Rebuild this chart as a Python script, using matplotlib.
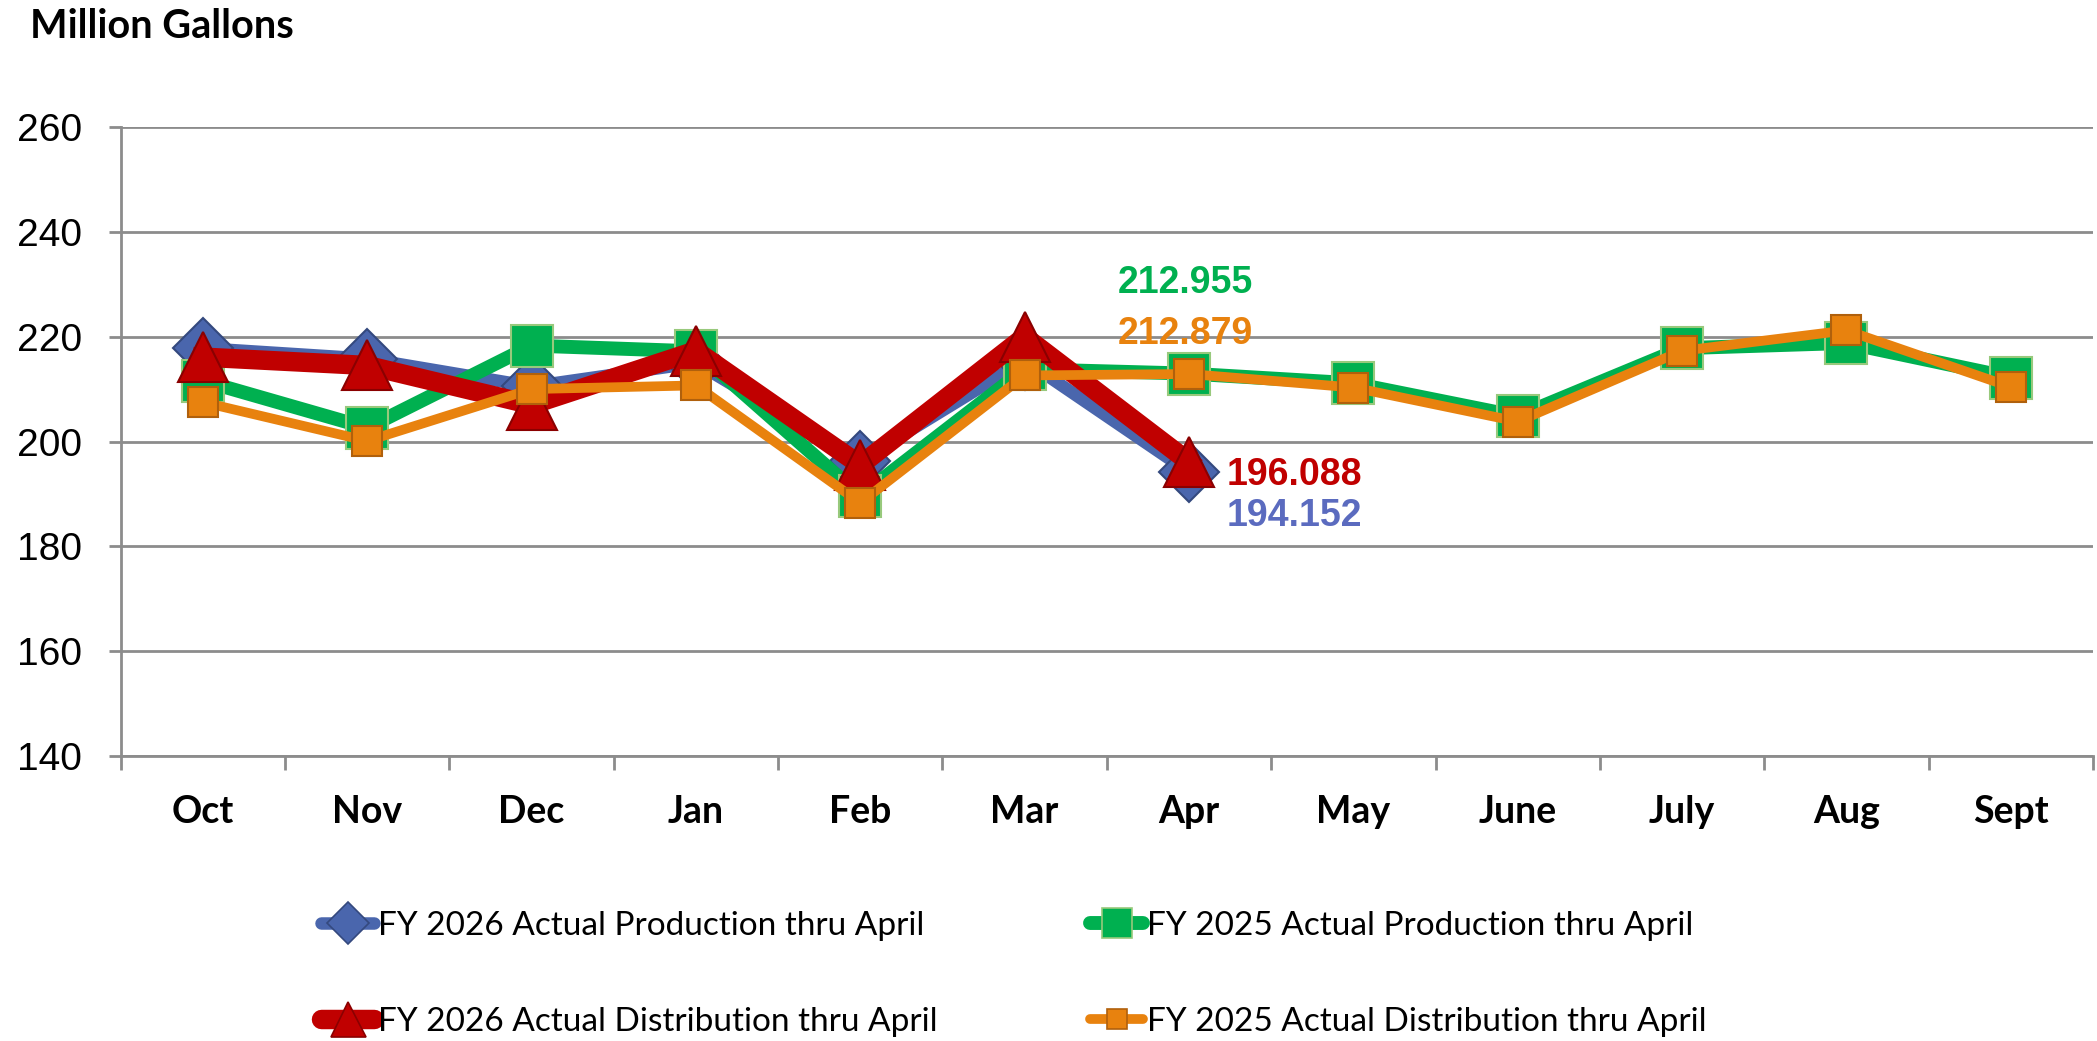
import matplotlib.pyplot as plt
from matplotlib.lines import Line2D
import numpy as np

months = ['Oct', 'Nov', 'Dec', 'Jan', 'Feb', 'Mar', 'Apr', 'May', 'June', 'July', 'Aug', 'Sept']
prod_2026 = [217.8, 215.8, 210.5, 215.0, 196.3, 215.5, 194.152]
prod_2025 = [211.6, 202.6, 218.3, 217.2, 189.6, 213.8, 212.955, 211.1, 204.8, 217.8, 218.8, 212.2]
dist_2026 = [216.1, 214.5, 207.0, 217.3, 195.5, 220.0, 196.088]
dist_2025 = [207.5, 200.1, 210.0, 210.7, 188.3, 212.6, 212.879, 210.3, 203.8, 217.3, 221.2, 210.4]
y_ticks = [140, 160, 180, 200, 220, 240, 260]

BLUE = '#4a66ad'
GREEN = '#00b050'
RED = '#c00000'
ORANGE = '#e8820e'
GRID = '#8c8c8c'

series = [
    # label, values, color, lw, marker, ms, edge color
    ('FY 2026 Actual Production thru April', prod_2026, BLUE, 9, 'D', 31, '#34497e'),
    ('FY 2025 Actual Production thru April', prod_2025, GREEN, 10, 's', 30, '#98c97c'),
    ('FY 2026 Actual Distribution thru April', dist_2026, RED, 14, '^', 36, '#8a0000'),
    ('FY 2025 Actual Distribution thru April', dist_2025, ORANGE, 7, 's', 21.5, '#b0600c'),
]

fig = plt.figure(figsize=(20.97, 10.41), dpi=100)
ax = fig.add_axes([120.7 / 2097, 1 - 756 / 1041, (2093 - 120.7) / 2097, (756 - 127) / 1041])

x = np.arange(len(months))
handles = []
for z, (lab, vals, col, lw, mk, ms, mec) in enumerate(series):
    ax.plot(x[:len(vals)], vals, color=col, lw=lw, marker=mk, ms=ms,
            mfc=col, mec=mec, mew=1.5, solid_joinstyle='miter', zorder=3 + z)
    handles.append(Line2D([], [], color=col, lw=lw, marker=mk, ms=ms * 0.7,
                          mfc=col, mec=mec, mew=1.2, solid_capstyle='round'))

ax.set_xlim(-0.5, 11.5)
ax.set_ylim(140, 260)
ax.set_yticks(y_ticks)
ax.set_yticklabels([str(v) for v in y_ticks], fontsize=28, family='Liberation Sans')
ax.tick_params(axis='y', length=9, width=2, color=GRID, pad=19)
ax.yaxis.grid(True, color=GRID, lw=2)
ax.set_axisbelow(True)

ax.set_xticks(x)
ax.set_xticklabels(months, fontsize=27, fontweight='bold', family='Lato')
ax.tick_params(axis='x', which='major', length=0, pad=28)
ax.set_xticks(np.arange(-0.5, 12, 1), minor=True)
ax.tick_params(axis='x', which='minor', length=10, width=2, color=GRID)

for s in ['top', 'right']:
    ax.spines[s].set_visible(False)
for s in ['left', 'bottom']:
    ax.spines[s].set_color(GRID)
    ax.spines[s].set_linewidth(2)

# value labels for April
lab_font = dict(fontsize=27, fontweight='bold', family='Liberation Sans', va='center', ha='left')
ax.annotate(f'{prod_2025[6]:.3f}', (6, prod_2025[6]), xytext=(-51.6, 65.3),
            textcoords='offset points', color=GREEN, **lab_font)
ax.annotate(f'{dist_2025[6]:.3f}', (6, dist_2025[6]), xytext=(-51.6, 28.9),
            textcoords='offset points', color=ORANGE, **lab_font)
ax.annotate(f'{dist_2026[6]:.3f}', (6, dist_2026[6]), xytext=(26.9, -9.2),
            textcoords='offset points', color=RED, **lab_font)
ax.annotate(f'{prod_2026[6]:.3f}', (6, prod_2026[6]), xytext=(26.9, -31.4),
            textcoords='offset points', color='#5b6bbf', **lab_font)

fig.text(30 / 2097, 1 - 8 / 1041, 'Million Gallons', fontsize=28.5, fontweight='bold',
         family='Lato', va='top', ha='left')

# legend, one entry per spot
spots = [(321, 926), (1090, 926), (321, 1022), (1090, 1022)]
for h, s, (px, py) in zip(handles, series, spots):
    fig.legend([h], [s[0]], loc='center left', bbox_to_anchor=(px / 2097, 1 - py / 1041),
               frameon=False, borderpad=0, borderaxespad=0, handlelength=1.6,
               handletextpad=0.1, prop=dict(family='Lato', size=24))

fig.savefig('out.png', dpi=100)
